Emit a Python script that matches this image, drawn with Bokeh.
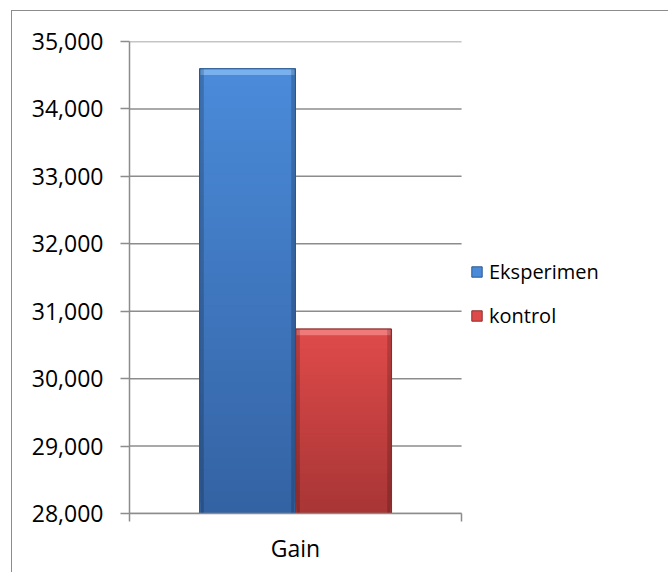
import numpy as np
from bokeh.plotting import figure
from bokeh.models import (Range1d, LinearAxis, FixedTicker, NumeralTickFormatter, Legend,
                          LegendItem, ColumnDataSource)
from bokeh.embed import file_html
from bokeh.resources import INLINE

# ---- data ----
categories = ["Gain"]
series_names = ["Eksperimen", "kontrol"]
eksperimen = [34595]
kontrol = [30735]
y_ticks = [28000, 29000, 30000, 31000, 32000, 33000, 34000, 35000]

# ---- style ----
FONT = "Open Sans"
GRID = "#8c8c8c"
Y_MIN, Y_MAX = 28000, 35000
BAR_W = 0.289
OFFS = [-0.1446, 0.1446]
TOP_COL = ["#4a8ad9", "#de4a4a"]
BOT_COL = ["#3463a3", "#a83535"]
BEVEL_COL = ["#79b0ee", "#f07a7a"]
EDGE_COL = ["#2c5890", "#8e2c2c"]
X_EXTRA = 1.572  # frame extends right of the category area to host the legend

n_cat = len(categories)
cat_pos = [i + 0.5 for i in range(n_cat)]

p = figure(width=657, height=562, x_range=Range1d(0, n_cat * X_EXTRA),
           y_range=Range1d(Y_MIN, Y_MAX), output_backend="svg", toolbar_location=None,
           x_axis_location=None, y_axis_location="left",
           min_border_left=117, min_border_right=18, min_border_top=30, min_border_bottom=60)
p.margin = (10, 0, 0, 11)
p.styles = {"border-left": "1px solid #8c8c8c", "border-top": "1px solid #8c8c8c"}
p.outline_line_color = None
p.background_fill_color = "white"
p.border_fill_color = "white"
p.grid.visible = False

# y axis
ya = p.yaxis[0]
ya.ticker = FixedTicker(ticks=y_ticks)
ya.formatter = NumeralTickFormatter(format="0,0")
ya.major_tick_out = 9
ya.major_tick_in = 0
ya.minor_tick_line_color = None
ya.axis_line_color = GRID
ya.axis_line_width = 1.5
ya.major_tick_line_color = GRID
ya.major_tick_line_width = 1.5
ya.major_label_text_font = FONT
ya.major_label_text_font_size = "23px"
ya.major_label_text_color = "#000000"
ya.major_label_standoff = 17

# horizontal gridlines spanning the category area only
p.segment(x0=[0] * len(y_ticks), x1=[n_cat] * len(y_ticks), y0=y_ticks, y1=y_ticks,
          line_color=GRID, line_width=1.5)

# x axis: category label at centre, tick marks at category boundaries
xa = LinearAxis(ticker=FixedTicker(ticks=cat_pos, minor_ticks=list(range(n_cat + 1))),
                bounds=(0, n_cat),
                major_label_overrides={pos: c for pos, c in zip(cat_pos, categories)},
                major_tick_line_color=None, major_tick_out=0, major_tick_in=0,
                minor_tick_out=8, minor_tick_in=0, minor_tick_line_color=GRID,
                minor_tick_line_width=1.5, axis_line_color=GRID, axis_line_width=1.5,
                major_label_text_font=FONT, major_label_text_font_size="23px",
                major_label_text_color="#000000", major_label_standoff=10)
p.add_layout(xa, "below")

# bars
values = [eksperimen, kontrol]
legend_items = []
n_bands = 40
bevel_h = 0.013 * (Y_MAX - Y_MIN)
for i, name in enumerate(series_names):
    vals = values[i]
    xs = [pos + OFFS[i] for pos in cat_pos]
    base_src = ColumnDataSource(dict(x=xs, top=vals, bottom=[Y_MIN] * len(vals)))
    r = p.vbar(x="x", width=BAR_W, top="top", bottom="bottom",
               source=base_src, fill_color=TOP_COL[i], line_color=EDGE_COL[i], line_width=1)
    legend_items.append(LegendItem(label=name, renderers=[r]))
    # vertical gradient: overlapping bands, each reaching up to the bevel
    c0 = np.array([int(BOT_COL[i][k:k + 2], 16) for k in (1, 3, 5)], float)
    c1 = np.array([int(TOP_COL[i][k:k + 2], 16) for k in (1, 3, 5)], float)
    bx, bots, tops, cols = [], [], [], []
    for x, v in zip(xs, vals):
        edges = np.linspace(Y_MIN, v - bevel_h, n_bands + 1)
        for j in range(n_bands):
            t = (j + 0.5) / n_bands
            col = c0 + (c1 - c0) * t
            bx.append(x); bots.append(edges[j]); tops.append(v - bevel_h)
            cols.append("#%02x%02x%02x" % tuple(int(round(c)) for c in col))
        bx.append(x); bots.append(v - bevel_h); tops.append(v); cols.append(BEVEL_COL[i])
    band_src = ColumnDataSource(dict(x=bx, bottom=bots, top=tops, color=cols))
    p.vbar(x="x", width=BAR_W - 0.006, top="top", bottom="bottom", source=band_src,
           fill_color="color", line_color=None)
    # darker side edges
    for s in (-1, 1):
        edge_src = ColumnDataSource(dict(x=[x + s * (BAR_W / 2 - 0.007) for x in xs],
                                         top=vals, bottom=[Y_MIN] * len(vals)))
        p.vbar(x="x", width=0.012, top="top", bottom="bottom", source=edge_src,
               fill_color="black", fill_alpha=0.18, line_color=None)
    # outline
    p.vbar(x="x", width=BAR_W, top="top", bottom="bottom", source=base_src,
           fill_color=None, line_color=EDGE_COL[i], line_width=1)

legend = Legend(items=legend_items, location=(341, 184), orientation="vertical",
                label_text_font=FONT, label_text_font_size="20px", label_text_color="#000000",
                glyph_width=13, glyph_height=13, label_height=22, spacing=17, padding=0,
                margin=0, border_line_color=None, background_fill_alpha=0, label_standoff=6)
p.add_layout(legend, "center")

html = file_html(p, INLINE)
html = html.replace("<body>", "<body style=\"margin:0;overflow:hidden\">", 1)
open("out.html", "w").write(html)
